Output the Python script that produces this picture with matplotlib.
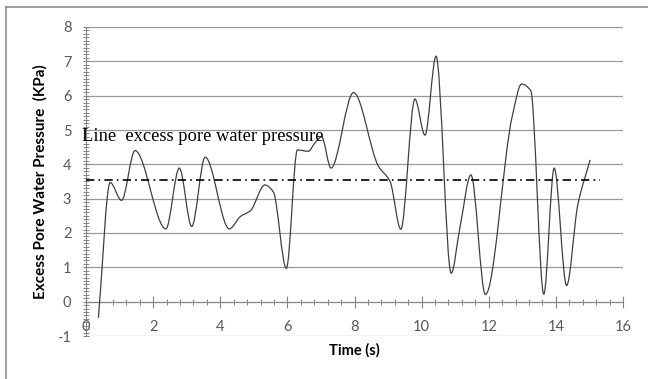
import matplotlib
matplotlib.use("Agg")
import matplotlib.pyplot as plt
import numpy as np
from matplotlib.path import Path
from matplotlib.patches import PathPatch
from matplotlib.lines import Line2D
from matplotlib.ticker import MultipleLocator

# Values
time_s = [0.37, 0.72, 1.06, 1.46, 2.38, 2.78, 3.15, 3.55, 4.27, 4.60, 4.90,
          5.33, 5.58, 5.97, 6.30, 6.62, 6.82, 7.02, 7.30, 7.97, 8.71, 9.06,
          9.38, 9.80, 10.10, 10.43, 10.88, 11.14, 11.47, 11.90, 12.70, 12.98,
          13.25, 13.64, 13.95, 14.32, 14.65, 15.02]
pressure_kpa = [-0.47, 3.47, 2.95, 4.40, 2.12, 3.89, 2.19, 4.21, 2.12, 2.48, 2.65,
                3.40, 3.20, 0.97, 4.42, 4.38, 4.62, 4.80, 3.89, 6.09, 3.95, 3.50,
                2.11, 5.90, 4.85, 7.15, 0.83, 2.15, 3.69, 0.21, 5.40, 6.34,
                6.15, 0.22, 3.89, 0.47, 2.80, 4.13]

line_level = 3.55
line_x = [0.0, 15.3]
line_label = "Line  excess pore water pressure"

x_label = "Time (s)"
y_label = "Excess Pore Water Pressure  (KPa)"

GRID = "#9a9a9a"
AXIS = "#868686"
TICKTXT = "#595959"
CURVE = "#404040"


def smooth_path(xs, ys):
    # smoothed line drawn as cubic Bezier segments through the data points,
    # slopes chosen so peaks and troughs stay at the points (no overshoot)
    x = np.asarray(xs, dtype=float)
    y = np.asarray(ys, dtype=float)
    h = np.diff(x)
    delta = np.diff(y) / h
    n = len(x)
    d = np.zeros(n)
    for i in range(1, n - 1):
        if delta[i - 1] * delta[i] > 0:
            w1 = 2 * h[i] + h[i - 1]
            w2 = h[i] + 2 * h[i - 1]
            d[i] = (w1 + w2) / (w1 / delta[i - 1] + w2 / delta[i])
    d[0] = delta[0]
    d[-1] = delta[-1]
    verts = [(x[0], y[0])]
    codes = [Path.MOVETO]
    for i in range(n - 1):
        verts += [(x[i] + h[i] / 3, y[i] + d[i] * h[i] / 3),
                  (x[i + 1] - h[i] / 3, y[i + 1] - d[i + 1] * h[i] / 3),
                  (x[i + 1], y[i + 1])]
        codes += [Path.CURVE4] * 3
    return Path(verts, codes)


plt.rcParams["font.family"] = ["Lato", "DejaVu Sans"]
plt.rcParams["axes.unicode_minus"] = False

fig = plt.figure(figsize=(6.48, 3.79), dpi=100)
ax = fig.add_axes([86 / 648, 1 - 336 / 379, 537 / 648, 309 / 379])

ax.set_xlim(0, 16)
ax.set_ylim(-1, 8)

# grid
ax.set_yticks(np.arange(-1, 9, 1))
ax.yaxis.set_minor_locator(MultipleLocator(0.1))
ax.set_xticks(np.arange(0, 17, 2))
ax.xaxis.set_minor_locator(MultipleLocator(0.4))
ax.grid(axis="y", color=GRID, linewidth=0.9)
ax.set_axisbelow(True)
for gl in ax.get_ygridlines():
    gl.set_clip_on(False)

for side in ["top", "right"]:
    ax.spines[side].set_visible(False)
ax.spines["bottom"].set_position(("data", 0))
ax.spines["left"].set_position(("data", 0))
ax.spines["left"].set_color(AXIS)
ax.spines["bottom"].set_color(AXIS)

ax.tick_params(axis="y", which="major", direction="inout", length=5, width=0.8,
               color=AXIS, labelsize=10.5, labelcolor=TICKTXT, pad=8)
ax.tick_params(axis="y", which="minor", direction="inout", length=4, width=0.7,
               color=AXIS)
ax.tick_params(axis="x", which="major", direction="inout", length=8, width=0.8,
               color=AXIS, labelsize=10.5, labelcolor=TICKTXT, pad=9)
ax.tick_params(axis="x", which="minor", direction="inout", length=5, width=0.7,
               color=AXIS)

# data curve
ax.add_patch(PathPatch(smooth_path(time_s, pressure_kpa), facecolor="none",
                       edgecolor=CURVE, linewidth=0.9, zorder=3))

# reference level
ax.plot(line_x, [line_level, line_level], color="black", linewidth=1.2,
        linestyle=(0, (5, 2.5, 1, 2.5)), zorder=4)
ax.text(-0.12, 4.67, line_label, family="Liberation Serif", fontsize=13.3,
        va="baseline", ha="left", color="black", clip_on=False, zorder=5)

ax.set_xlabel(x_label, fontsize=10.5, fontweight="bold", color="black", va="center")
ax.xaxis.set_label_coords(0.5, -0.045)
ax.set_ylabel(y_label, fontsize=11, fontweight="bold", color="black", va="center")
ax.yaxis.set_label_coords(-0.0857, 0.5)

# chart area border (left and top visible in the crop)
fig.add_artist(Line2D([6 / 648, 6 / 648], [0, 1 - 7 / 379], color="#8c8c8c",
                      linewidth=1.2, transform=fig.transFigure))
fig.add_artist(Line2D([6 / 648, 1], [1 - 7 / 379, 1 - 7 / 379], color="#8c8c8c",
                      linewidth=1.2, transform=fig.transFigure))

fig.savefig("out.png", dpi=100)
